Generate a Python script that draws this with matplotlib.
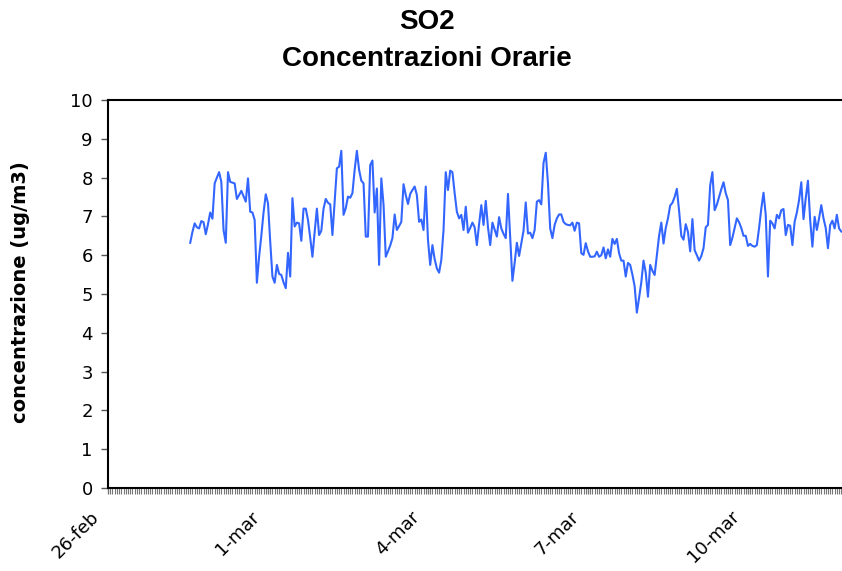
import matplotlib
matplotlib.use('Agg')
import matplotlib.pyplot as plt
import matplotlib.dates as mdates
import matplotlib.transforms as mtransforms
import pandas as pd

title_line1 = 'SO2'
title_line2 = 'Concentrazioni Orarie'
y_label = 'concentrazione (ug/m3)'
start_time = '2007-02-27 13:00'

so2_values = [
    6.32, 6.6, 6.82, 6.72, 6.69, 6.88, 6.85, 6.54, 6.8, 7.10,
    6.94, 7.85, 8.0, 8.14, 7.89, 6.65, 6.32, 8.14, 7.89, 7.87,
    7.85, 7.45, 7.55, 7.66, 7.52, 7.38, 7.98, 7.12, 7.10, 6.91,
    5.29, 5.96, 6.5, 7.1, 7.57, 7.34, 6.35, 5.45, 5.29, 5.75,
    5.52, 5.49, 5.3, 5.15, 6.06, 5.45, 7.47, 6.74, 6.84, 6.82,
    6.37, 7.20, 7.20, 6.91, 6.45, 5.96, 6.6, 7.20, 6.52, 6.63,
    7.2, 7.45, 7.35, 7.31, 6.52, 7.4, 8.24, 8.28, 8.69, 7.04,
    7.21, 7.51, 7.48, 7.6, 8.20, 8.69, 8.2, 7.92, 7.85, 6.48,
    6.48, 8.32, 8.44, 7.10, 7.72, 5.75, 7.98, 7.3, 5.96, 6.1,
    6.25, 6.44, 7.05, 6.65, 6.75, 6.86, 7.83, 7.55, 7.32, 7.58,
    7.68, 7.77, 7.55, 6.86, 6.92, 6.65, 7.77, 6.39, 5.75, 6.26,
    5.9, 5.66, 5.55, 5.88, 6.65, 8.14, 7.68, 8.18, 8.14, 7.6,
    7.12, 6.95, 7.04, 6.65, 7.25, 6.58, 6.7, 6.84, 6.72, 6.26,
    6.8, 7.29, 6.78, 7.40, 6.72, 6.26, 6.84, 6.66, 6.48, 6.98,
    6.69, 6.55, 6.44, 7.58, 6.48, 5.34, 5.8, 6.32, 5.98, 6.31,
    6.63, 7.36, 6.56, 6.58, 6.44, 6.65, 7.38, 7.42, 7.31, 8.38,
    8.64, 7.85, 6.69, 6.44, 6.78, 6.95, 7.05, 7.05, 6.86, 6.8,
    6.78, 6.77, 6.84, 6.63, 6.84, 6.82, 6.05, 6.01, 6.31, 6.1,
    5.96, 5.96, 5.97, 6.09, 5.96, 6.0, 6.20, 5.92, 6.15, 5.96,
    6.42, 6.29, 6.42, 6.05, 5.86, 5.86, 5.45, 5.8, 5.75, 5.5,
    5.2, 4.52, 4.9, 5.3, 5.86, 5.55, 4.93, 5.75, 5.6, 5.49,
    6.0, 6.5, 6.84, 6.3, 6.7, 6.95, 7.28, 7.35, 7.5, 7.71,
    7.15, 6.5, 6.4, 6.8, 6.6, 6.1, 6.93, 6.13, 6.0, 5.86,
    5.98, 6.18, 6.72, 6.78, 7.8, 8.14, 7.16, 7.3, 7.5, 7.7,
    7.88, 7.6, 7.42, 6.26, 6.45, 6.7, 6.95, 6.85, 6.7, 6.5,
    6.5, 6.24, 6.29, 6.24, 6.22, 6.26, 6.7, 7.2, 7.61, 7.04,
    5.45, 6.89, 6.82, 6.69, 7.04, 6.95, 7.16, 7.19, 6.52, 6.78,
    6.76, 6.26, 6.86, 7.1, 7.42, 7.88, 6.93, 7.47, 7.92, 6.9,
    6.22, 6.99, 6.65, 6.95, 7.29, 6.95, 6.7, 6.18, 6.78, 6.89,
    6.69, 7.04, 6.69, 6.61,
]

x_tick_dates = ['2007-02-26', '2007-03-01', '2007-03-04', '2007-03-07', '2007-03-10']
x_tick_labels = ['26-feb', '1-mar', '4-mar', '7-mar', '10-mar']
y_ticks = [0, 1, 2, 3, 4, 5, 6, 7, 8, 9, 10]

plt.rcParams['font.family'] = ['DejaVu Sans']

times = pd.date_range(start_time, periods=len(so2_values), freq='h')

W, H = 842, 571
fig = plt.figure(figsize=(W / 100, H / 100), dpi=100)
ax_left, ax_right, ax_top, ax_bottom = 108, 842, 100, 488
ax = fig.add_axes([ax_left / W, (H - ax_bottom) / H,
                   (ax_right - ax_left) / W, (ax_bottom - ax_top) / H])

ax.plot(times, so2_values, color='#3366FF', linewidth=1.5)

x0 = pd.Timestamp('2007-02-26')
x1 = x0 + pd.Timedelta(days=(ax_right - ax_left) / 53.33)
ax.set_xlim(x0, x1)
ax.set_ylim(0, 10)

ax.tick_params(axis='y', direction='out', length=5, width=1, color='#555555', pad=6)
ax.tick_params(axis='x', which='major', direction='out', length=4, width=1,
               color='#777777', pad=10)
ax.tick_params(axis='x', which='minor', direction='out', length=4, width=0.8,
               color='#777777')

ax.set_yticks(y_ticks)
ax.set_yticklabels([str(v) for v in y_ticks], fontsize=13)
ax.set_xticks(pd.to_datetime(x_tick_dates))
ax.set_xticklabels(x_tick_labels, rotation=45, ha='right', va='top',
                   rotation_mode='anchor', fontsize=13)
ax.xaxis.set_minor_locator(mdates.HourLocator())

offset = mtransforms.ScaledTranslation(-18 / 100, 0, fig.dpi_scale_trans)
for tick in ax.xaxis.get_major_ticks():
    tick.label1.set_transform(tick.label1.get_transform() + offset)

for s in ['left', 'bottom', 'top']:
    ax.spines[s].set_color('black')
    ax.spines[s].set_linewidth(1.5)
ax.spines['right'].set_visible(False)

fig.text(21 / W, 1 - 292 / H, y_label, rotation=90, ha='center', va='center',
         fontsize=14, fontweight='bold')

fig.text(427 / W, 1 - 22 / H, title_line1, ha='center', va='center',
         fontsize=20, fontweight='bold', family='Liberation Sans')
fig.text(427 / W, 1 - 59 / H, title_line2, ha='center', va='center',
         fontsize=20, fontweight='bold', family='Liberation Sans')

fig.savefig('out.png', dpi=100)
